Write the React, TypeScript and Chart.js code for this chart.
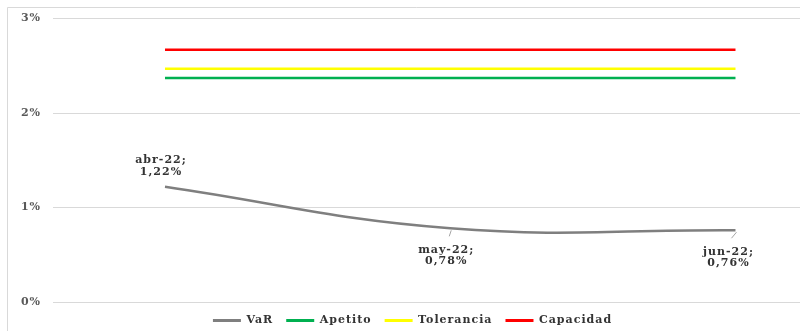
import React, { useEffect, useRef } from "react";
import { Chart, registerables } from "chart.js";

Chart.register(...registerables);

const categories = ["abr-22", "may-22", "jun-22"];
const varValues = [1.22, 0.78, 0.76];
const apetitoValues = [2.37, 2.37, 2.37];
const toleranciaValues = [2.47, 2.47, 2.47];
const capacidadValues = [2.67, 2.67, 2.67];
const seriesNames = ["VaR", "Apetito", "Tolerancia", "Capacidad"];
const yTickValues = [0, 1, 2, 3];

const FONT = "'DejaVu Serif', 'Liberation Serif', serif";
const SPACING = "1px";

const toPoints = (vals: number[]) => vals.map((v, i) => ({ x: i, y: v }));
const fmt = (v: number) => v.toFixed(2).replace(".", ",") + "%";

const spacingPlugin = {
  id: "spacing",
  beforeUpdate(chart: any) {
    chart.ctx.letterSpacing = SPACING;
  },
  beforeLayout(chart: any) {
    chart.ctx.letterSpacing = SPACING;
  },
  beforeDraw(chart: any) {
    const ctx = chart.ctx;
    ctx.letterSpacing = SPACING;
    ctx.save();
    ctx.fillStyle = "#ffffff";
    ctx.fillRect(0, 0, chart.width, chart.height);
    ctx.strokeStyle = "#d9d9d9";
    ctx.lineWidth = 1;
    ctx.beginPath();
    ctx.moveTo(7.5, chart.height);
    ctx.lineTo(7.5, 7.5);
    ctx.lineTo(chart.width, 7.5);
    ctx.stroke();
    ctx.restore();
  },
};

const labelPlugin = {
  id: "varLabels",
  afterDatasetsDraw(chart: any) {
    const meta = chart.getDatasetMeta(0);
    const ctx = chart.ctx;
    ctx.save();
    ctx.letterSpacing = SPACING;
    ctx.font = `bold 11px ${FONT}`;
    ctx.fillStyle = "#333333";
    ctx.textAlign = "center";
    ctx.textBaseline = "middle";
    meta.data.forEach((pt: any, i: number) => {
      const x = pt.x;
      const y = pt.y;
      const l1 = categories[i] + ";";
      const l2 = fmt(varValues[i]);
      if (i === 0) {
        ctx.fillText(l1, x - 4, y - 27);
        ctx.fillText(l2, x - 4, y - 15);
      } else {
        const dx = i === 1 ? -4 : -7;
        ctx.strokeStyle = "#a6a6a6";
        ctx.lineWidth = 1;
        ctx.beginPath();
        ctx.moveTo(x + 1, y + 2);
        ctx.lineTo(x - (i === 1 ? 1 : 4), y + 8);
        ctx.stroke();
        ctx.fillText(l1, x + dx, y + 22);
        ctx.fillText(l2, x + dx, y + 33);
      }
    });
    ctx.restore();
  },
};

export default function App() {
  const ref = useRef<HTMLCanvasElement | null>(null);
  useEffect(() => {
    if (!ref.current) return;
    const chart = new Chart(ref.current, {
      type: "line",
      data: {
        datasets: [
          {
            label: seriesNames[0],
            data: toPoints(varValues),
            borderColor: "#7f7f7f",
            backgroundColor: "#7f7f7f",
            borderWidth: 2.5,
            pointRadius: 0,
            tension: 0.42,
          },
          {
            label: seriesNames[1],
            data: toPoints(apetitoValues),
            borderColor: "#00b050",
            backgroundColor: "#00b050",
            borderWidth: 2.5,
            pointRadius: 0,
          },
          {
            label: seriesNames[2],
            data: toPoints(toleranciaValues),
            borderColor: "#ffff00",
            backgroundColor: "#ffff00",
            borderWidth: 2.5,
            pointRadius: 0,
          },
          {
            label: seriesNames[3],
            data: toPoints(capacidadValues),
            borderColor: "#ff0000",
            backgroundColor: "#ff0000",
            borderWidth: 2.5,
            pointRadius: 0,
          },
        ],
      },
      options: {
        animation: false,
        responsive: true,
        maintainAspectRatio: false,
        layout: { padding: { top: 9.7, left: 0, right: 0, bottom: 0 } },
        scales: {
          x: {
            type: "linear",
            display: false,
            min: -0.3926,
            max: 2.3138,
          },
          y: {
            min: 0,
            max: 3,
            afterFit: (scale: any) => {
              scale.width = 53;
            },
            afterBuildTicks: (scale: any) => {
              scale.ticks = yTickValues.map((v) => ({ value: v }));
            },
            border: { display: false },
            grid: { color: "#d9d9d9", lineWidth: 1, drawTicks: false },
            ticks: {
              padding: 12,
              color: "#595959",
              font: { family: FONT, size: 11, weight: "bold" },
              callback: (v: any) => v + "%",
            },
          },
        },
        plugins: {
          title: { display: false },
          tooltip: { enabled: false },
          legend: {
            position: "bottom",
            maxHeight: 29,
            labels: {
              boxWidth: 28,
              boxHeight: 3,
              padding: 13,
              color: "#333333",
              font: { family: FONT, size: 11, weight: "bold" },
              generateLabels: (c: any) =>
                Chart.defaults.plugins.legend.labels
                  .generateLabels(c)
                  .map((it: any) => ({ ...it, lineWidth: 0 })),
            },
          },
        },
      },
      plugins: [spacingPlugin, labelPlugin],
    });
    return () => chart.destroy();
  }, []);

  return (
    <div
      style={{
        position: "fixed",
        left: 0,
        top: 0,
        width: 800,
        height: 331,
        overflow: "hidden",
        background: "#fff",
      }}
    >
      <div style={{ position: "relative", width: 825, height: 331 }}>
        <canvas ref={ref} />
      </div>
    </div>
  );
}
